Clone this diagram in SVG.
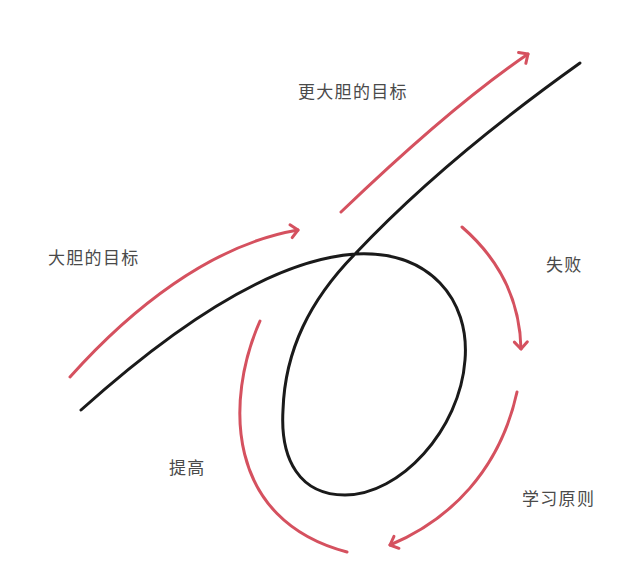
<svg xmlns="http://www.w3.org/2000/svg" width="640" height="571" viewBox="0 0 640 571">
<style>
.blk{fill:none;stroke:#1a1a1a;stroke-width:3;stroke-linecap:round;stroke-linejoin:round}
.red{fill:none;stroke:#d5515f;stroke-width:3;stroke-linecap:round}
.lbl{font-family:"Noto Sans CJK SC","Noto Sans",sans-serif;font-size:17px;fill:#4a4a4a;letter-spacing:1.3px;dominant-baseline:central}
</style>
<defs>
<marker id="ah" markerUnits="userSpaceOnUse" markerWidth="20" markerHeight="20" viewBox="-10 -10 20 20" refX="0" refY="0" orient="auto">
<path d="M-7,-6.5 L0,0 L-7,6.5" fill="none" stroke="#d5515f" stroke-width="3" stroke-linecap="round" stroke-linejoin="round"/>
</marker>
</defs>
<rect width="640" height="571" fill="#ffffff"/>
<g id="connectors">
<path id="path-main" class="blk" d="M81,410 C170,330 270,260 355,254 C430,250 470,300 465,360 C460,430 400,495 345,495 C300,495 280,460 283,410 C285,350 310,300 355,254 C420,185 500,120 580,63"/>
<path id="arrow-bold" class="red" marker-end="url(#ah)" d="M70,377 C130,310 210,245 298,230"/>
<path id="arrow-bolder" class="red" marker-end="url(#ah)" d="M341,212 C390,165 460,100 528,54"/>
<path id="arrow-fail" class="red" marker-end="url(#ah)" d="M462,227 C500,260 520,300 521,349"/>
<path id="arrow-learn" class="red" marker-end="url(#ah)" d="M517,392 C500,470 450,520 390,545"/>
<path id="arrow-improve" class="red" d="M260,321 C225,400 225,520 347,552"/>
</g>
<g id="label-bolder-goal"><text class="lbl" x="298" y="90">更大胆的目标</text></g>
<g id="label-bold-goal"><text class="lbl" x="48" y="256">大胆的目标</text></g>
<g id="label-fail"><text class="lbl" x="546" y="263">失败</text></g>
<g id="label-improve"><text class="lbl" x="169" y="466">提高</text></g>
<g id="label-learn"><text class="lbl" x="522" y="497">学习原则</text></g>
</svg>
